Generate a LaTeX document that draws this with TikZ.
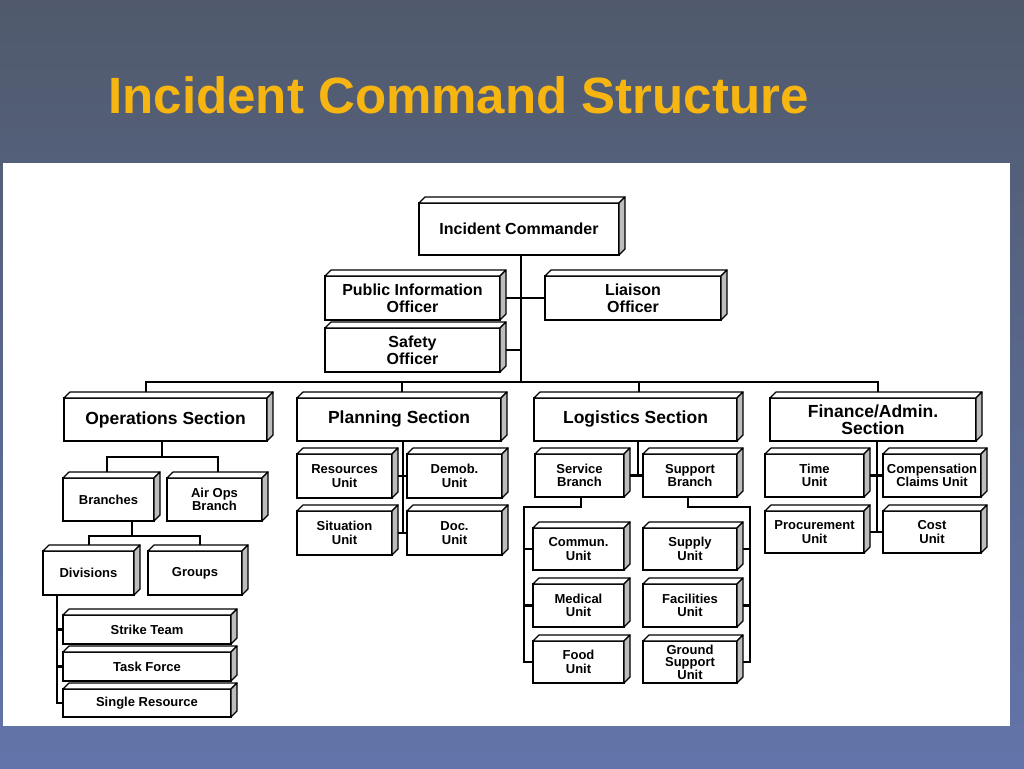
\documentclass[tikz,border=0pt]{standalone}
\usepackage{fontspec}
\setmainfont{Liberation Sans}
\pgfdeclarelayer{bg}\pgfdeclarelayer{conn}
\pgfsetlayers{bg,conn,main}
\definecolor{titlecol}{HTML}{F7B512}
\definecolor{topbg}{HTML}{505A6C}
\definecolor{botbg}{HTML}{6274AA}
\definecolor{sidegray}{HTML}{BDBDBD}
\tikzset{
 box/.style={draw=black, fill=white, line width=1.2pt, inner sep=0pt, outer sep=0pt, align=center},
 face/.style={draw=black, line width=1.2pt, line join=round, fill=white},
 side/.style={draw=black, line width=1.2pt, line join=round, fill=sidegray},
 conn/.style={draw=black, line width=2.4pt, line cap=rect},
 ftop/.style={font=\fontsize{16}{17}\selectfont\bfseries},
 fsec/.style={font=\fontsize{17.5}{17}\selectfont\bfseries},
 funit/.style={font=\fontsize{13}{13.5}\selectfont\bfseries},
}
\newcommand\icsbox[7]{%
 \node[box,#2, minimum width={(#5-#3-6)*1pt}, minimum height={(#6-#4-6)*1pt}] (#1) at ({(#3+#5-6)/2},{(#4+#6+6)/2}) {#7};
 \draw[face] (#1.north west) -- ++(6,-6) -- ([shift={(6,-6)}]#1.north east) -- (#1.north east) -- cycle;
 \draw[side] (#1.north east) -- ++(6,-6) -- ([shift={(6,-6)}]#1.south east) -- (#1.south east) -- cycle;
}
\begin{document}
\begin{tikzpicture}[x=1pt,y=-1pt]
\useasboundingbox (0,0) rectangle (1024,768);
\begin{pgfonlayer}{bg}
\shade[top color=topbg, bottom color=botbg] (0,0) rectangle (1024,768);
\fill[white] (3,163) rectangle (1010,726);
\end{pgfonlayer}
\node[anchor=base west, text=titlecol, font=\fontsize{51}{51}\selectfont\bfseries] (title) at (105,113) {Incident Command Structure};
% top level
\icsbox{ic}{ftop}{419}{197}{625}{255}{Incident Commander}
\icsbox{pio}{ftop}{325}{270}{506}{320}{Public Information\\Officer}
\icsbox{lia}{ftop}{545}{270}{727}{320}{Liaison\\Officer}
\icsbox{saf}{ftop}{325}{322}{506}{372}{Safety\\Officer}
% sections
\icsbox{ops}{fsec}{64}{392}{273}{441}{Operations Section}
\icsbox{plan}{fsec}{297}{392}{507}{441}{Planning Section}
\icsbox{log}{fsec}{534}{392}{743}{441}{Logistics Section}
\icsbox{fin}{fsec}{770}{392}{982}{441}{Finance/Admin.\\Section}
% operations
\icsbox{br}{funit}{63}{472}{160}{521}{Branches}
\icsbox{air}{funit}{167}{472}{268}{521}{Air Ops\\Branch}
\icsbox{div}{funit}{43}{545}{140}{595}{Divisions}
\icsbox{grp}{funit}{148}{545}{248}{595}{Groups}
\icsbox{st}{funit}{63}{609}{237}{644}{Strike Team}
\icsbox{tf}{funit}{63}{646}{237}{681}{Task Force}
\icsbox{sr}{funit}{63}{683}{237}{717}{Single Resource}
% planning
\icsbox{ru}{funit}{297}{448}{398}{498}{Resources\\Unit}
\icsbox{dm}{funit}{407}{448}{508}{498}{Demob.\\Unit}
\icsbox{su}{funit}{297}{505}{398}{555}{Situation\\Unit}
\icsbox{dc}{funit}{407}{505}{508}{555}{Doc.\\Unit}
% logistics
\icsbox{sv}{funit}{535}{448}{630}{497}{Service\\Branch}
\icsbox{sp}{funit}{643}{448}{743}{497}{Support\\Branch}
\icsbox{cu}{funit}{533}{522}{630}{570}{Commun.\\Unit}
\icsbox{md}{funit}{533}{578}{630}{627}{Medical\\Unit}
\icsbox{fd}{funit}{533}{635}{630}{683}{Food\\Unit}
\icsbox{sy}{funit}{643}{522}{743}{570}{Supply\\Unit}
\icsbox{fa}{funit}{643}{578}{743}{627}{Facilities\\Unit}
\icsbox{gs}{font=\fontsize{13}{12.5}\selectfont\bfseries}{643}{635}{743}{683}{Ground\\Support\\Unit}
% finance
\icsbox{tu}{funit}{765}{448}{870}{497}{Time\\Unit}
\icsbox{cc}{funit}{883}{448}{987}{497}{Compensation\\Claims Unit}
\icsbox{pu}{funit}{765}{505}{870}{553}{Procurement\\Unit}
\icsbox{co}{funit}{883}{505}{987}{553}{Cost\\Unit}
% connectors
\begin{pgfonlayer}{conn}
\coordinate (spine) at (521,382);
\coordinate (busL) at (146,382);
\coordinate (busR) at (878,382);
\coordinate (bP) at (402,382);
\coordinate (bLg) at (639,382);
\draw[conn] (ic.south -| spine) -- (spine);
\draw[conn] (pio.east) -- (lia.west);
\draw[conn] (saf.east) -- (saf.east -| spine);
\draw[conn] (ops.north -| busL) -- (busL) -- (busR) -- (fin.north -| busR);
\draw[conn] (bP) -- (plan.north -| bP);
\draw[conn] (bLg) -- (log.north -| bLg);
% operations
\coordinate (oj) at (162,457);
\coordinate (oL) at (107,457);
\coordinate (oR) at (218,457);
\draw[conn] (ops.south -| oj) -- (oj);
\draw[conn] (br.north -| oL) -- (oL) -- (oR) -- (air.north -| oR);
\coordinate (bj) at (132,536);
\coordinate (dL) at (89,536);
\coordinate (dR) at (200,536);
\draw[conn] (br.south -| bj) -- (bj);
\draw[conn] (div.north -| dL) -- (dL) -- (dR) -- (grp.north -| dR);
\coordinate (dvx) at (57,600);
\draw[conn] (div.south -| dvx) -- (sr.west -| dvx) -- (sr.west);
\draw[conn] (st.west -| dvx) -- (st.west);
\draw[conn] (tf.west -| dvx) -- (tf.west);
% planning
\coordinate (psx) at (403,450);
\draw[conn] (plan.south -| psx) -- (su.east -| psx);
\draw[conn] (ru.east) -- (dm.west);
\draw[conn] (su.east) -- (dc.west);
% logistics
\coordinate (lsx) at (638,450);
\draw[conn] (log.south -| lsx) -- (sv.east -| lsx);
\draw[conn] (sv.east) -- (sp.west);
\coordinate (svx) at (581,507);
\coordinate (svl) at (524,507);
\draw[conn] (sv.south -| svx) -- (svx) -- (svl) -- (fd.west -| svl) -- (fd.west);
\draw[conn] (cu.west -| svl) -- (cu.west);
\draw[conn] (md.west -| svl) -- (md.west);
\coordinate (spx) at (688,507);
\coordinate (spr) at (750,507);
\draw[conn] (sp.south -| spx) -- (spx) -- (spr) -- (gs.east -| spr) -- (gs.east);
\draw[conn] (sy.east -| spr) -- (sy.east);
\draw[conn] (fa.east -| spr) -- (fa.east);
% finance
\coordinate (fsx) at (877,450);
\draw[conn] (fin.south -| fsx) -- (pu.east -| fsx);
\draw[conn] (tu.east) -- (cc.west);
\draw[conn] (pu.east) -- (co.west);
\end{pgfonlayer}
\end{tikzpicture}
\end{document}
